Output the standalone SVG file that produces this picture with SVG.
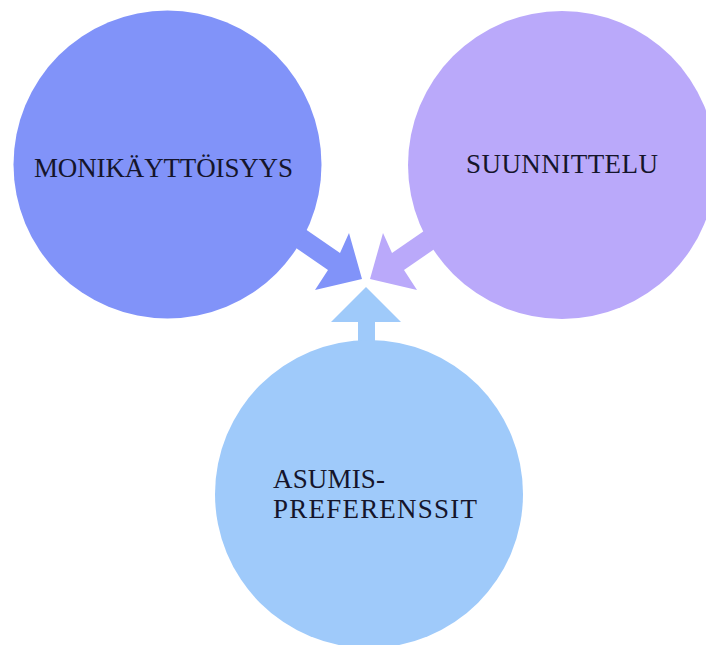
<svg xmlns="http://www.w3.org/2000/svg" width="706" height="645" viewBox="0 0 706 645">
<style>
.lbl{font-family:"Liberation Serif","DejaVu Serif",serif;font-size:27px;fill:#15152b;}
</style>
<rect width="706" height="645" fill="#ffffff"/>
<g id="connectors">
<polygon points="295,222 340,253 349,233 362,279 315,290 328,270 283,239" fill="#8193F9"/>
<polygon points="437,222 392,253 383,233 370,279 417,290 404,270 449,239" fill="#BAA9FA"/>
<polygon points="366,287 401,322 375,322 375,350 358,350 358,322 331,322" fill="#9FCAFA"/>
</g>
<g id="monikayttoisyys">
<circle cx="167.5" cy="164.5" r="154" fill="#8193F9"/>
<text class="lbl" x="34" y="177" textLength="259" lengthAdjust="spacing">MONIKÄYTTÖISYYS</text>
</g>
<g id="suunnittelu">
<circle cx="562" cy="165" r="154" fill="#BAA9FA"/>
<text class="lbl" x="466" y="173" textLength="192" lengthAdjust="spacing">SUUNNITTELU</text>
</g>
<g id="asumispreferenssit">
<circle cx="369" cy="494" r="154" fill="#9FCAFA"/>
<text class="lbl" x="273" y="488" textLength="112" lengthAdjust="spacing">ASUMIS-</text>
<text class="lbl" x="273" y="518" textLength="204" lengthAdjust="spacing">PREFERENSSIT</text>
</g>
</svg>
